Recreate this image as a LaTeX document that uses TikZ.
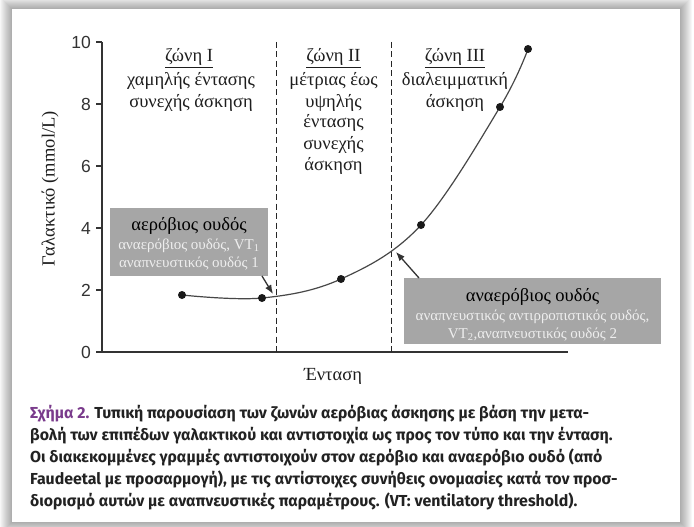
\documentclass[tikz,border=0pt]{standalone}
\usepackage{fontspec}
\setmainfont{Liberation Serif}
\newfontfamily\ticksfont{Liberation Sans}
\newfontfamily\capfont{Fira Sans}
\usetikzlibrary{arrows.meta}
\definecolor{axisgray}{HTML}{333333}
\definecolor{boxgray}{HTML}{A6A6A6}
\definecolor{boxtext}{HTML}{EEEEEE}
\definecolor{capviolet}{HTML}{7A3B8C}
\definecolor{captext}{HTML}{222222}
\definecolor{plottext}{HTML}{1E1E1E}
\tikzset{
  axisline/.style={draw=axisgray, line width=1.2pt},
  tickline/.style={draw=axisgray, line width=1.1pt},
  ticklabel/.style={anchor=east, inner sep=0pt, text=axisgray, font=\ticksfont\fontsize{17.5}{19}\selectfont},
  zoneline/.style={draw=black!85, line width=1pt, dash pattern=on 6pt off 3.5pt},
  datacurve/.style={draw=black!72, line width=1.2pt},
  datadot/.style={circle, fill=black!90, inner sep=0pt, minimum size=8pt},
  zonetext/.style={anchor=base, inner sep=0pt, text=plottext, font=\fontsize{18.5}{20}\selectfont},
  gbox/.style={fill=boxgray, draw=none, inner sep=0pt},
  boxtitle/.style={anchor=base, inner sep=0pt, text=black, font=\fontsize{18.5}{20}\selectfont},
  boxsub/.style={anchor=base, inner sep=0pt, text=boxtext, font=\fontsize{15}{16}\selectfont},
  callout/.style={-{Latex[length=9pt,width=7pt]}, draw=black!80, line width=1.3pt},
  captionline/.style={anchor=base west, inner sep=0pt, text=captext, font=\capfont\bfseries\fontsize{15.9}{18}\selectfont},
}
\begin{document}
\begin{tikzpicture}[x=1pt,y=-1pt]
\useasboundingbox (0,0) rectangle (694,527);
% panel shadow
\foreach \i in {1,...,12}
  \fill[black, opacity=0.03] (12-\i,9-\i) rectangle (680+\i,522+\i);
\fill[white] (12,9) rectangle (680,522);

% axes
\draw[axisline] (102,42) -- (102,352) -- (568,352);
\foreach \v in {0,2,4,6,8,10} {
  \draw[tickline] (96,352-31*\v) -- (102,352-31*\v);
  \node[ticklabel] (t\v) at (91,352-31*\v) {\v};
}

% zone boundaries
\draw[zoneline] (276,42) -- (276,352);
\draw[zoneline] (391,42) -- (391,352);

% lactate curve
\draw[datacurve] plot[smooth, tension=0.6] coordinates {(182,295) (262,298) (341,279) (421,225) (500,107) (528,49)};
\node[datadot] (d1) at (182,295) {};
\node[datadot] (d2) at (262,298) {};
\node[datadot] (d3) at (341,279) {};
\node[datadot] (d4) at (421,225) {};
\node[datadot] (d5) at (500,107) {};
\node[datadot] (d6) at (528,49) {};

% zone labels
\node[zonetext] (z1a) at (189,62) {\underline{ζώνη I}};
\node[zonetext] (z1b) at (191,86) {χαμηλής έντασης};
\node[zonetext] (z1c) at (191,107) {συνεχής άσκηση};

\node[zonetext] (z2a) at (333.5,62) {\underline{ζώνη II}};
\node[zonetext] (z2b) at (333.5,86) {μέτριας έως};
\node[zonetext] (z2c) at (333.5,107) {υψηλής};
\node[zonetext] (z2d) at (333.5,128) {έντασης};
\node[zonetext] (z2e) at (333.5,149) {συνεχής};
\node[zonetext] (z2f) at (333.5,170) {άσκηση};

\node[zonetext] (z3a) at (455,62) {\underline{ζώνη III}};
\node[zonetext] (z3b) at (455,86) {διαλειμματική};
\node[zonetext] (z3c) at (455,107) {άσκηση};

% axis titles
\node[inner sep=0pt, text=plottext, rotate=90, font=\fontsize{18.5}{20}\selectfont] (ylab) at (50,189) {Γαλακτικό (mmol/L)};
\node[inner sep=0pt, text=plottext, font=\fontsize{18.5}{20}\selectfont] (xlab) at (333,376) {Ένταση};

% threshold boxes
\node[gbox, minimum width=158pt, minimum height=68pt] (b1) at (189,242) {};
\node[boxtitle] (b1t) at (189,230) {αερόβιος ουδός};
\node[boxsub] (b1s) at (189,249) {αναερόβιος ουδός, VT\textsubscript{1}};
\node[boxsub] (b1u) at (189,267) {αναπνευστικός ουδός 1};

\node[gbox, minimum width=257pt, minimum height=66pt] (b2) at (532.5,311) {};
\node[boxtitle] (b2t) at (532.5,301) {αναερόβιος ουδός};
\node[boxsub] (b2s) at (532.5,320) {αναπνευστικός αντιρροπιστικός ουδός,};
\node[boxsub] (b2u) at (532.5,338) {VT\textsubscript{2},αναπνευστικός ουδός 2};

% callout arrows
\coordinate (a1s) at (262,276);
\coordinate (a1e) at (273,294);
\coordinate (a2s) at (419,278);
\coordinate (a2e) at (396,252);
\draw[callout] (a1s) -- (a1e);
\draw[callout] (a2s) -- (a2e);

% caption
\node[captionline] (c1) at (30,418) {{\color{capviolet}Σχήμα 2.} Τυπική παρουσίαση των ζωνών αερόβιας άσκησης με βάση την μετα-};
\node[captionline] (c2) at (30,440) {βολή των επιπέδων γαλακτικού και αντιστοιχία ως προς τον τύπο και την ένταση.};
\node[captionline] (c3) at (30,462) {Οι διακεκομμένες γραμμές αντιστοιχούν στον αερόβιο και αναερόβιο ουδό (από};
\node[captionline] (c4) at (30,484) {Faudeetal με προσαρμογή), με τις αντίστοιχες συνήθεις ονομασίες κατά τον προσ-};
\node[captionline] (c5) at (30,506) {διορισμό αυτών με αναπνευστικές παραμέτρους. (VT: ventilatory threshold).};
\end{tikzpicture}
\end{document}
